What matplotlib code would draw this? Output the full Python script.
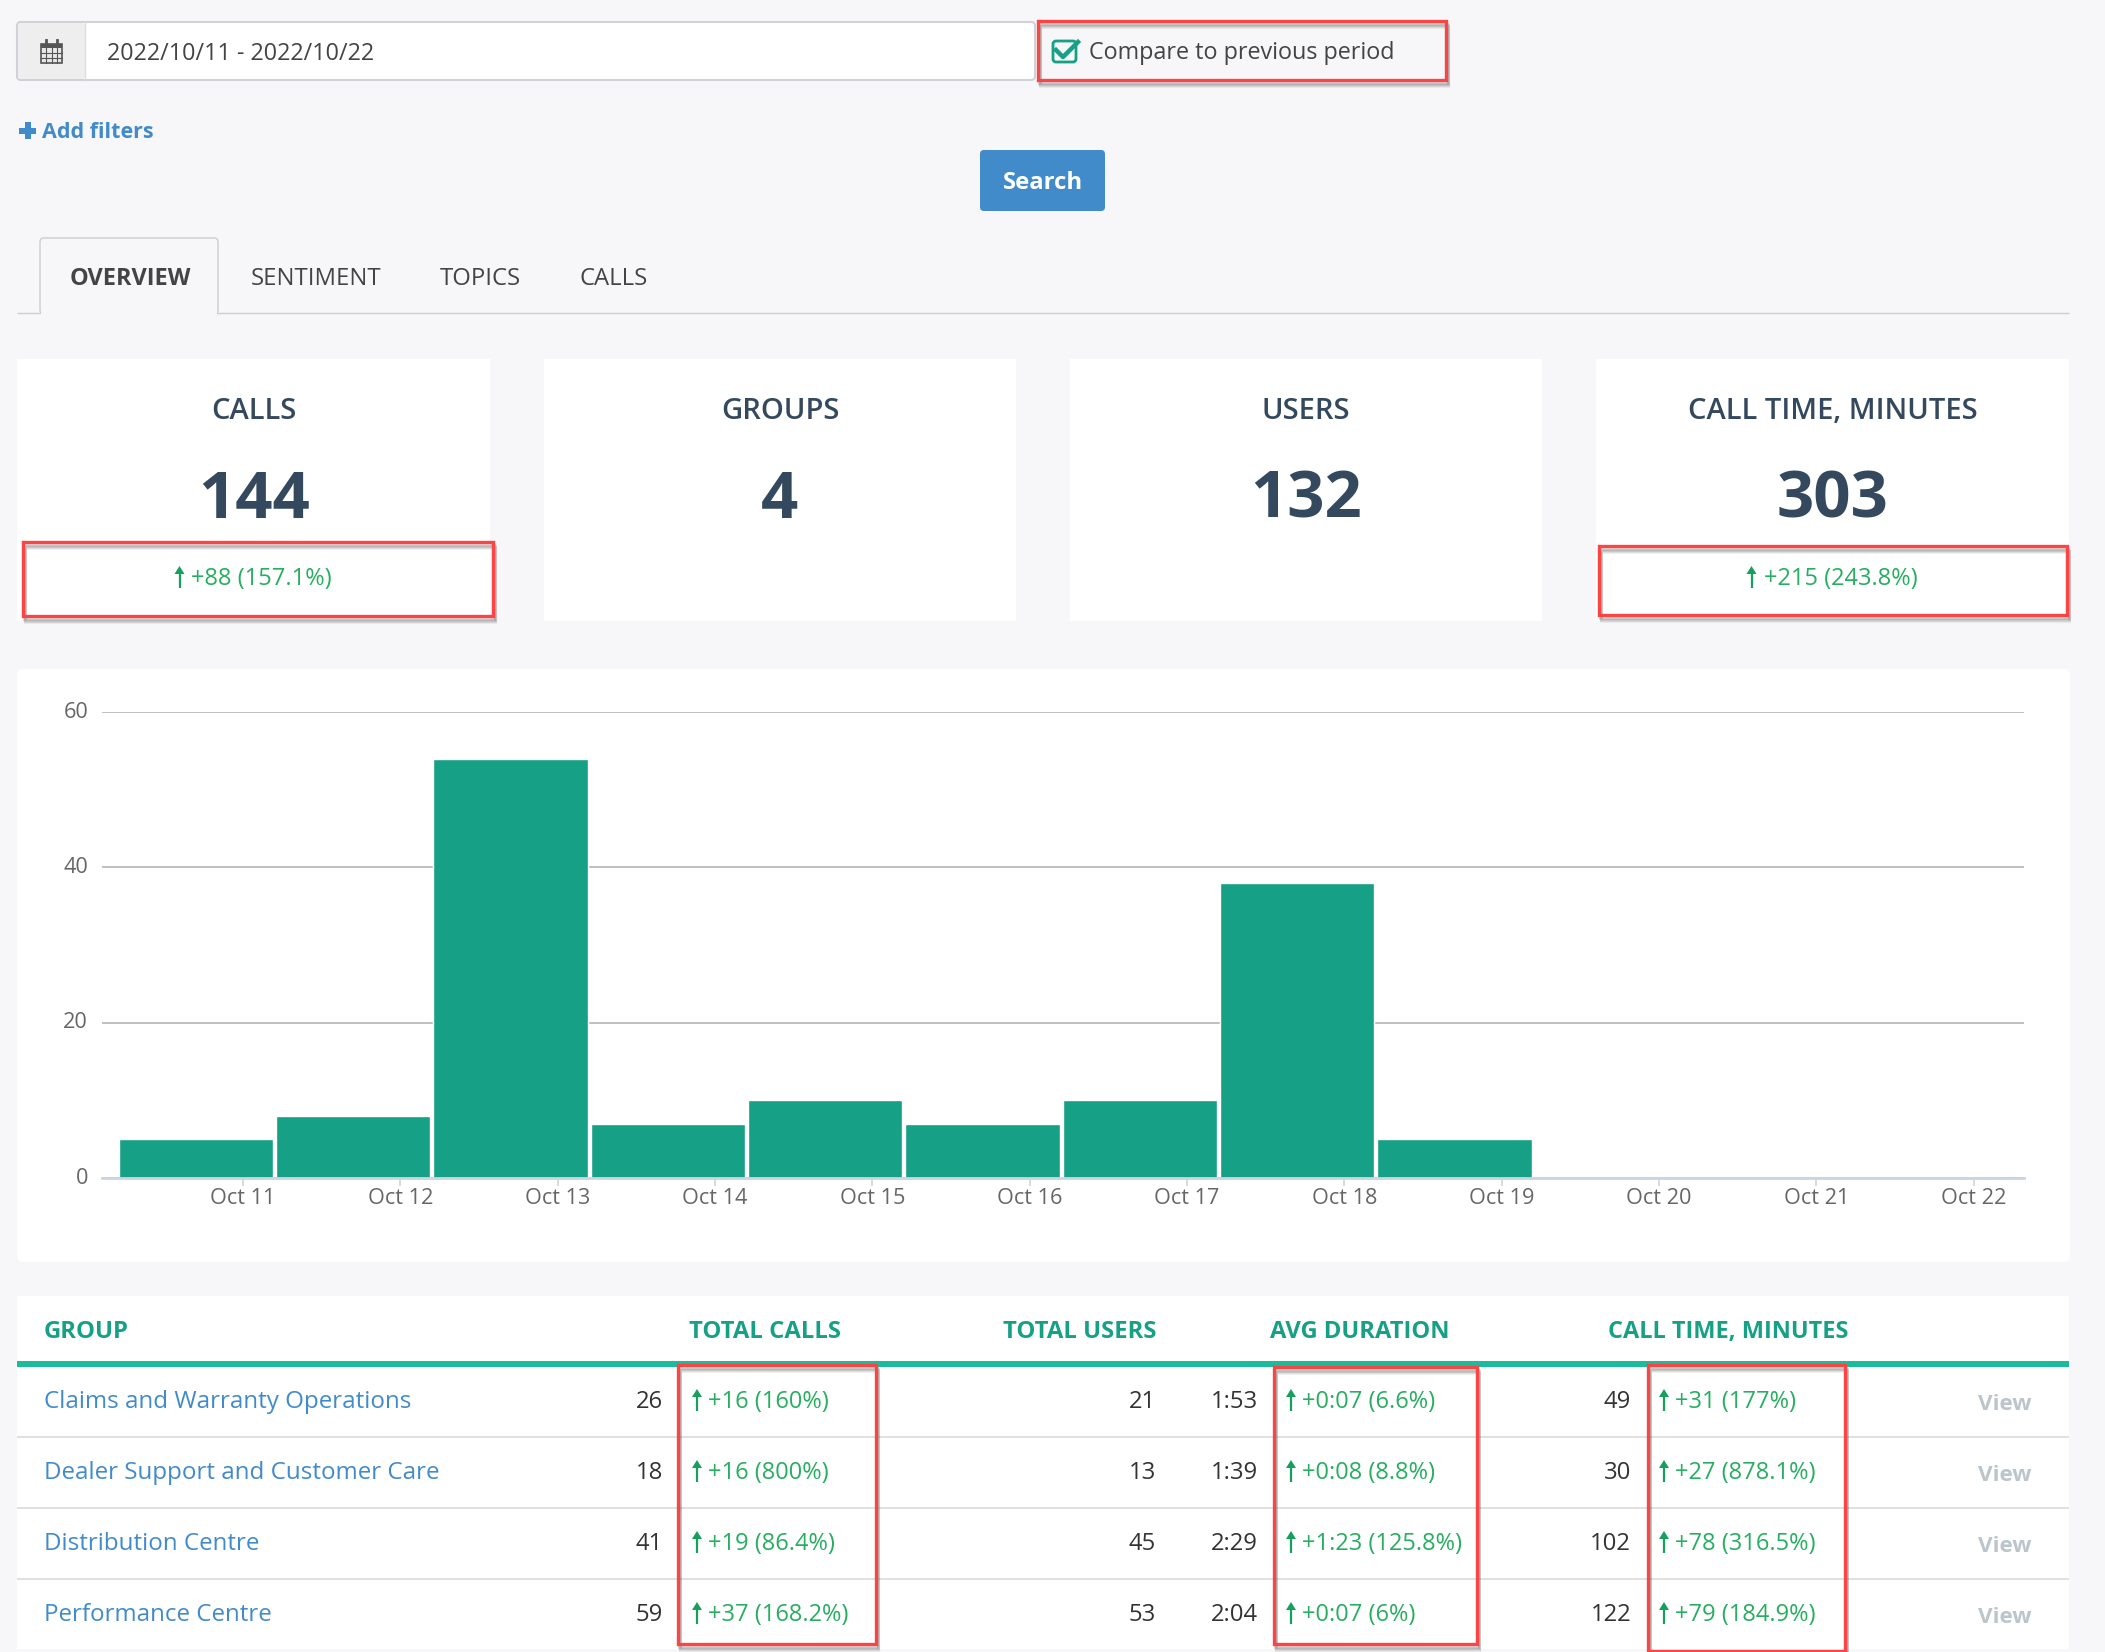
import matplotlib
matplotlib.use('Agg')
from matplotlib import pyplot as plt
from matplotlib.patches import FancyBboxPatch, Rectangle, Polygon

plt.rcParams['font.family'] = ['Open Sans', 'DejaVu Sans']

W, H = 2105, 1652

# chart values
days = ['Oct 11', 'Oct 12', 'Oct 13', 'Oct 14', 'Oct 15', 'Oct 16',
        'Oct 17', 'Oct 18', 'Oct 19', 'Oct 20', 'Oct 21', 'Oct 22']
day_calls = [5, 8, 54, 7, 10, 7, 10, 38, 5, 0, 0, 0]
y_ticks = [0, 20, 40, 60]

# summary cards
card_titles = ['CALLS', 'GROUPS', 'USERS', 'CALL TIME, MINUTES']
card_values = ['144', '4', '132', '303']
card_deltas = ['+88 (157.1%)', None, None, '+215 (243.8%)']

# table
table_headers = ['GROUP', 'TOTAL CALLS', 'TOTAL USERS', 'AVG DURATION', 'CALL TIME, MINUTES']
groups = ['Claims and Warranty Operations', 'Dealer Support and Customer Care',
          'Distribution Centre', 'Performance Centre']
total_calls = ['26', '18', '41', '59']
calls_delta = ['+16 (160%)', '+16 (800%)', '+19 (86.4%)', '+37 (168.2%)']
total_users = ['21', '13', '45', '53']
avg_duration = ['1:53', '1:39', '2:29', '2:04']
duration_delta = ['+0:07 (6.6%)', '+0:08 (8.8%)', '+1:23 (125.8%)', '+0:07 (6%)']
call_minutes = ['49', '30', '102', '122']
minutes_delta = ['+31 (177%)', '+27 (878.1%)', '+78 (316.5%)', '+79 (184.9%)']

BG = '#f7f7f9'
TEAL = '#16a085'
TEAL_LINE = '#1abc9c'
BLUE = '#428bca'
GREEN = '#27ae60'
ARROW = '#16a05d'
SLATE = '#34495e'
RED = '#fb4444'

fig = plt.figure(figsize=(W / 100, H / 100), dpi=100, facecolor=BG)
ui = fig.add_axes([0, 0, 1, 1])
ui.set_xlim(0, W)
ui.set_ylim(H, 0)
ui.axis('off')


def box(x0, y0, x1, y1, color='white', edge='none', lw=0, radius=0, z=1):
	if radius:
		p = FancyBboxPatch((x0, y0), x1 - x0, y1 - y0, boxstyle='round,pad=0,rounding_size=%g' % radius,
			facecolor=color, edgecolor=edge, linewidth=lw, zorder=z)
	else:
		p = Rectangle((x0, y0), x1 - x0, y1 - y0, facecolor=color, edgecolor=edge, linewidth=lw, zorder=z)
	ui.add_patch(p)


def label(x, y, s, size=17.2, color='#333333', ha='left', weight='normal', z=5):
	ui.text(x, y - 1, s, fontsize=size, color=color, ha=ha, va='center_baseline', fontweight=weight, zorder=z)


def up_arrow(x, y):
	ui.plot([x, x], [y - 8, y + 11], color=ARROW, lw=1.6, zorder=5, solid_capstyle='butt')
	ui.add_patch(Polygon([[x - 5, y - 3], [x, y - 11], [x + 5, y - 3]], closed=True, facecolor=ARROW, edgecolor='none', zorder=5))


def delta(x, y, s):
	up_arrow(x, y)
	label(x + 11, y, s, size=17.0, color=GREEN)


def red_box(x0, y0, x1, y1):
	# soft shadow first, then the outline
	for off, a in ((6, 0.08), (5, 0.12), (4, 0.16), (3, 0.2)):
		ui.add_patch(Rectangle((x0 + off * 0.4, y0 + off), x1 - x0, y1 - y0, fill=False, edgecolor='#555555',
			alpha=a, linewidth=2.2, zorder=8))
	ui.add_patch(Rectangle((x0, y0), x1 - x0, y1 - y0, fill=False, edgecolor=RED, linewidth=2.4, zorder=9))


# date picker row
box(17, 22, 1035, 80, color='white', edge='#cfd2d6', lw=1.5, radius=4)
box(18, 23, 85, 79, color='#eeeeee', radius=3, z=2)
ui.plot([85, 85], [22, 80], color='#dddddd', lw=1, zorder=3)
box(41, 44, 62, 63, color='#e8e8e8', edge='#555555', lw=1.2, z=3)
box(41, 44, 62, 48, color='#555555', z=3)
for gx in (46, 51.5, 57):
	ui.plot([gx, gx], [48, 63], color='#555555', lw=0.8, zorder=4)
for gy in (53, 58):
	ui.plot([41, 62], [gy, gy], color='#555555', lw=0.8, zorder=4)
for gx in (46, 57):
	ui.plot([gx, gx], [40, 46], color='#555555', lw=2, zorder=4)
label(107, 52, '2022/10/11 - 2022/10/22', size=16.85, color='#444444')

box(1053, 41, 1076, 62, color='none', edge=TEAL, lw=2, radius=3, z=3)
ui.plot([1056, 1063, 1078], [50, 57, 42], color=TEAL, lw=3.2, zorder=4)
label(1089, 51, 'Compare to previous period', size=16.85, color='#444444')
red_box(1038, 21, 1446, 80)

# plus icon of the filters link
box(19, 127.5, 36, 133.5, color=BLUE)
box(24.5, 122, 30.5, 139, color=BLUE)
label(42, 131, 'Add filters', size=15.5, color=BLUE, weight='bold')

box(980, 150, 1105, 211, color=BLUE, radius=4)
label(1042.5, 181, 'Search', color='white', ha='center', weight='bold')

# tabs
ui.plot([17, 2069], [313, 313], color='#cdcdcd', lw=1, zorder=2, solid_capstyle='butt')
box(40, 238, 218, 314, color=BG, edge='#cdcdcd', lw=1, radius=4, z=3)
box(41, 306, 217, 316, color=BG, z=3)
label(130, 277, 'OVERVIEW', size=16.9, color='#444444', ha='center', weight='bold')
for tab_x, tab in zip((316, 480, 614), ('SENTIMENT', 'TOPICS', 'CALLS')):
	label(tab_x, 277, tab, color='#444444', ha='center')

# summary cards
card_x = [(17, 490), (544, 1016), (1070, 1542), (1596, 2069)]
for (x0, x1), title, value, d in zip(card_x, card_titles, card_values, card_deltas):
	box(x0, 359, x1, 621)
	cx = (x0 + x1) / 2
	label(cx, 409, title, size=21, color=SLATE, ha='center', weight=600)
	label(cx, 494.5, value, size=47, color=SLATE, ha='center', weight='bold')
	if d:
		label(cx + 8, 577, d, size=17.0, color=GREEN, ha='center')
		up_arrow(cx - 74 if len(d) < 13 else cx - 81, 577)
red_box(23, 542, 493, 616)
red_box(1599, 546, 2067, 615)

# chart card
box(17, 669, 2070, 1262, radius=6)
AX_L, AX_R, AX_TOP, AX_BOT = 102, 2024, 712, 1178
ax = fig.add_axes([AX_L / W, 1 - AX_BOT / H, (AX_R - AX_L) / W, (AX_BOT - AX_TOP) / H], facecolor='none')
positions = list(range(len(days)))
ax.bar([p - 0.3 for p in positions], day_calls, width=0.98, color=TEAL, edgecolor='white', linewidth=1, zorder=3)
ax.set_xlim(-0.896, 11.32)
ax.set_ylim(0, 60)
ax.set_yticks(y_ticks)
ax.set_xticks(positions)
ax.set_xticklabels(days)
ax.grid(axis='y', color='#bfbfbf', linewidth=1.4, zorder=1)
for side in ('top', 'right', 'left'):
	ax.spines[side].set_visible(False)
ax.spines['bottom'].set_color('#c9d5e3')
ax.spines['bottom'].set_linewidth(2)
ax.spines['bottom'].set_zorder(4)
ax.tick_params(axis='x', length=6, width=1.2, color='#c9d5e3', labelsize=15.6, labelcolor='#666666', pad=1)
ax.tick_params(axis='y', length=0, labelsize=15.6, labelcolor='#666666', pad=10)
for tick_label in ax.get_yticklabels():
	tick_label.set_verticalalignment('center')

# table
box(17, 1296, 2069, 1649)
box(17, 1361, 2069, 1367, color=TEAL_LINE, z=2)
for sep in (1437, 1508, 1579):
	ui.plot([17, 2069], [sep, sep], color='#dddddd', lw=1.3, zorder=2, solid_capstyle='butt')
for head_x, head, head_size in zip((44, 689, 1003, 1270, 1608), table_headers, (17.2, 17.2, 17.2, 17.1, 16.9)):
	label(head_x, 1330, head, size=head_size, color=TEAL, weight='bold')
row_y = [1400, 1471, 1542, 1613]
for i, y in enumerate(row_y):
	label(44, y, groups[i], size=17.4, color=BLUE)
	label(663, y, total_calls[i], color='#333333', ha='right')
	delta(697, y, calls_delta[i])
	label(1156, y, total_users[i], color='#333333', ha='right')
	label(1258, y, avg_duration[i], color='#333333', ha='right')
	delta(1291, y, duration_delta[i])
	label(1631, y, call_minutes[i], color='#333333', ha='right')
	delta(1664, y, minutes_delta[i])
	label(2005, y + 3, 'View', size=16.2, color='#bcc5cc', ha='center', weight='bold')
red_box(678, 1365, 876, 1644)
red_box(1274, 1367, 1477, 1644)
red_box(1648, 1365, 1845, 1651)

fig.savefig('out.png', dpi=100, facecolor=BG)
